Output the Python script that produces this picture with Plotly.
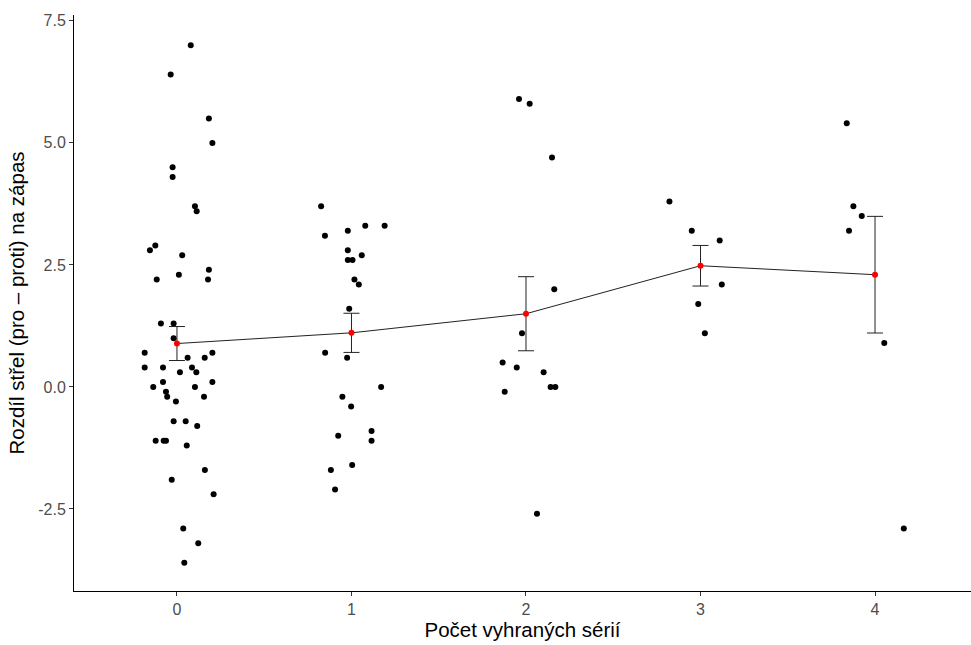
import numpy as np
import plotly.graph_objects as go

# jittered x positions and y values
x0 = [0.079, -0.036, 0.183, 0.203, -0.025, -0.025, 0.103, 0.113, -0.124, -0.155, 0.03, 0.011, 0.183, -0.116,
      0.178, -0.092, -0.019, -0.019, -0.185, 0.061, 0.159, 0.203, -0.185, -0.08, 0.086, 0.017, 0.111, -0.08,
      -0.136, 0.103, 0.203, -0.063, -0.056, 0.155, -0.006, -0.019, 0.05, 0.116, -0.122, -0.076, -0.063, 0.056,
      0.16, -0.03, 0.21, 0.036, 0.122, 0.042]
y0 = [7.0, 6.4, 5.5, 5.0, 4.5, 4.3, 3.7, 3.6, 2.9, 2.8, 2.7, 2.3, 2.4, 2.2,
      2.2, 1.3, 1.3, 1.0, 0.7, 0.6, 0.6, 0.7, 0.4, 0.4, 0.4, 0.3, 0.3, 0.1,
      0.0, 0.0, 0.1, -0.1, -0.2, -0.2, -0.3, -0.7, -0.7, -0.8, -1.1, -1.1, -1.1, -1.2,
      -1.7, -1.9, -2.2, -2.9, -3.2, -3.6]
x1 = [0.826, 1.079, 1.19, 0.848, 0.979, 0.979, 0.979, 1.006, 1.059, 1.017, 1.042, 0.987, 0.849, 0.975,
      1.17, 0.948, 0.998, 1.115, 1.115, 0.924, 1.004, 0.882, 0.906]
y1 = [3.7, 3.3, 3.3, 3.1, 3.2, 2.8, 2.6, 2.6, 2.7, 2.2, 2.1, 1.6, 0.7, 0.6,
      0.0, -0.2, -0.4, -0.9, -1.1, -1.0, -1.6, -1.7, -2.1]
x2 = [1.96, 2.021, 2.149, 2.162, 1.977, 1.866, 1.947, 2.101, 2.141, 2.168, 1.878, 2.063]
y2 = [5.9, 5.8, 4.7, 2.0, 1.1, 0.5, 0.4, 0.3, 0.0, 0.0, -0.1, -2.6]
x3 = [2.822, 2.95, 3.11, 3.122, 2.987, 3.025]
y3 = [3.8, 3.2, 3.0, 2.1, 1.7, 1.1]
x4 = [3.838, 3.876, 3.924, 3.851, 4.053, 4.165]
y4 = [5.4, 3.7, 3.5, 3.2, 0.9, -2.9]

groups = [0, 1, 2, 3, 4]
xs = [x0, x1, x2, x3, x4]
ys = [y0, y1, y2, y3, y4]

y_tickvals = [-2.5, 0.0, 2.5, 5.0, 7.5]
y_ticktext = ["-2.5", "0.0", "2.5", "5.0", "7.5"]
x_tickvals = [0, 1, 2, 3, 4]

means = [float(np.mean(v)) for v in ys]
ses = [float(np.std(v, ddof=1) / np.sqrt(len(v))) for v in ys]

fig = go.Figure()
fig.add_trace(go.Scatter(
    x=sum(xs, []), y=sum(ys, []), mode="markers",
    marker=dict(color="black", size=6), showlegend=False, hoverinfo="skip"))
fig.add_trace(go.Scatter(
    x=groups, y=means, mode="lines",
    line=dict(color="#222222", width=1),
    error_y=dict(type="data", array=ses, color="#222222", thickness=1, width=8),
    showlegend=False))
fig.add_trace(go.Scatter(
    x=groups, y=means, mode="markers",
    marker=dict(color="red", size=6), showlegend=False))

fig.update_layout(
    width=971, height=645,
    margin=dict(l=74, r=0, t=15, b=54),
    paper_bgcolor="white", plot_bgcolor="white",
    font=dict(family="Liberation Sans, Arial, sans-serif", color="black"),
)
fig.update_xaxes(
    range=[-0.59, 4.55], tickvals=x_tickvals, ticktext=[str(v) for v in x_tickvals],
    showgrid=False, zeroline=False, showline=True, linecolor="black", linewidth=1,
    ticks="outside", ticklen=4, tickcolor="#333333",
    tickfont=dict(size=16, color="#4D4D4D"),
    title=dict(text="Počet vyhraných sérií", font=dict(size=20.5, color="black"), standoff=5),
)
fig.update_yaxes(
    range=[-4.18, 7.62], tickvals=y_tickvals, ticktext=y_ticktext,
    showgrid=False, zeroline=False, showline=True, linecolor="black", linewidth=1,
    ticks="outside", ticklen=4, tickcolor="#333333",
    tickfont=dict(size=16, color="#4D4D4D"),
    title=dict(text="Rozdíl střel (pro – proti) na zápas", font=dict(size=20.5, color="black"), standoff=8),
)

fig.write_html("out.html", config={"displayModeBar": False},
               post_script="document.body.style.margin='0';document.body.style.overflow='hidden';")
